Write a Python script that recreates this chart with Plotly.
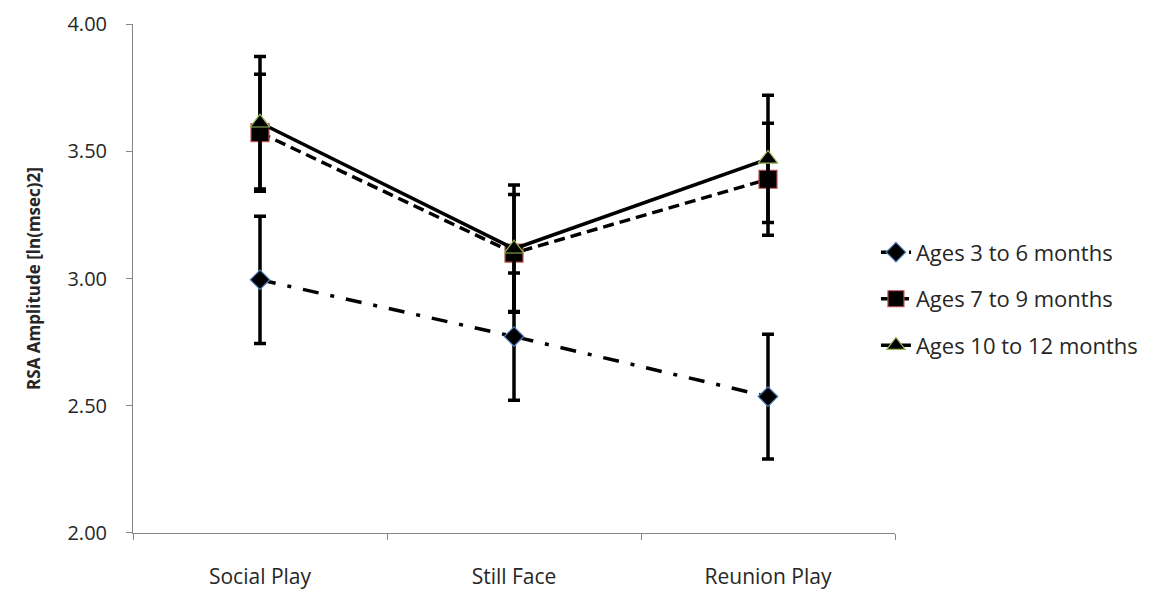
import plotly.graph_objects as go

categories = ["Social Play", "Still Face", "Reunion Play"]
series_names = ["Ages 3 to 6 months", "Ages 7 to 9 months", "Ages 10 to 12 months"]
ages_3_6 = [2.995, 2.772, 2.536]
ages_3_6_err = [0.25, 0.25, 0.245]
ages_7_9 = [3.573, 3.10, 3.39]
ages_7_9_err = [0.23, 0.23, 0.22]
ages_10_12 = [3.612, 3.117, 3.47]
ages_10_12_err = [0.26, 0.25, 0.25]
y_ticks = [2.0, 2.5, 3.0, 3.5, 4.0]

FONT = "Open Sans"
TXT = "#262626"

styles = [
    dict(dash="16px,12px,4px,12px", symbol="diamond", size=15, outline="#4f81bd"),
    dict(dash="11px,6px", symbol="square", size=18, outline="#c0504d"),
    dict(dash="solid", symbol="triangle-up", size=17, outline="#9bbb59"),
]
values = [ages_3_6, ages_7_9, ages_10_12]
errors = [ages_3_6_err, ages_7_9_err, ages_10_12_err]

fig = go.Figure()
for name, vals, errs, st in zip(series_names, values, errors, styles):
    fig.add_trace(go.Scatter(
        x=categories, y=vals, name=name, mode="lines+markers",
        line=dict(color="black", width=3.5, dash=st["dash"]),
        marker=dict(symbol=st["symbol"], size=st["size"], color="black",
                    line=dict(color=st["outline"], width=1.2)),
        error_y=dict(type="data", array=errs, visible=True, color="black",
                     thickness=3.5, width=6),
        legendgroup=name,
    ))

fig.update_layout(
    width=1149, height=582,
    margin=dict(l=125, r=262, t=16, b=57, autoexpand=False),
    paper_bgcolor="white", plot_bgcolor="white",
    font=dict(family=FONT, size=16, color=TXT),
    showlegend=True,
    legend=dict(x=0.975, y=0.46, xanchor="left", yanchor="middle",
                font=dict(family=FONT, size=22, color=TXT),
                tracegroupgap=15, traceorder="grouped", bgcolor="rgba(0,0,0,0)"),
    xaxis=dict(type="category", range=[-0.5, 2.5], showgrid=False,
               showline=True, linecolor="#868686", linewidth=1,
               ticks="outside", tickson="boundaries", ticklen=6, tickcolor="#868686",
               ticklabelstandoff=25, ticklabeloverflow="allow",
               tickfont=dict(family=FONT, size=21, color=TXT), zeroline=False),
    yaxis=dict(range=[1.9999, 4.0001], tickvals=y_ticks, tickformat=".2f", showgrid=False,
               showline=True, linecolor="#868686", linewidth=1,
               ticks="outside", ticklen=6, tickcolor="#868686",
               ticklabelstandoff=15, ticklabeloverflow="allow",
               tickfont=dict(family=FONT, size=20, color=TXT), zeroline=False,
               title=dict(text="<b>RSA Amplitude [ln(msec)2]</b>",
                          font=dict(family=FONT, size=17, color=TXT), standoff=22)),
)

fig.write_html("out.html")
